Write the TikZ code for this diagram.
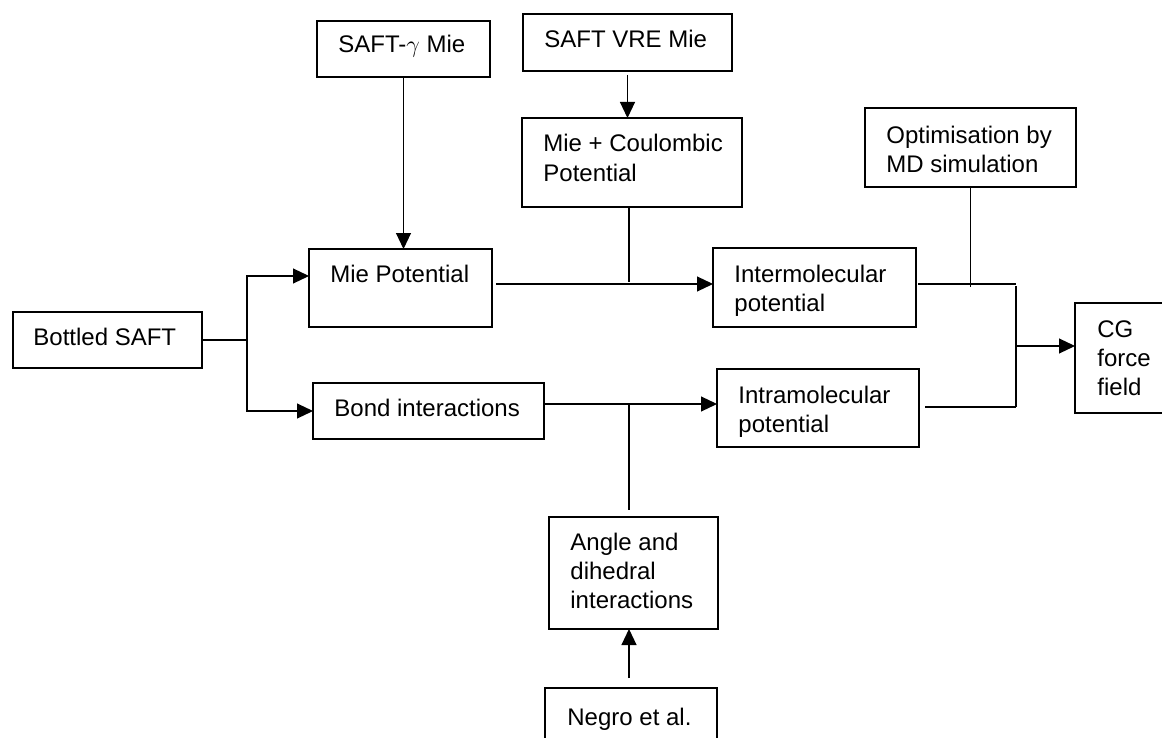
\documentclass[tikz,border=0pt]{standalone}
\usepackage{fontspec}
\setmainfont{Liberation Sans}
\usetikzlibrary{arrows.meta,fit,calc}
\tikzset{
  boxnode/.style={draw, line width=0.75pt, inner sep=0pt, outer sep=0pt},
  txt/.style={anchor=base west, inner sep=0pt, font=\fontsize{12}{14.6}\selectfont},
  conn/.style={line width=0.55pt},
  arr/.style={line width=0.55pt, -{Triangle[length=8pt,width=7.5pt]}}
}
\newcommand\mybx[8]{%
  \node[boxnode, fit={(#2,#3) (#4,#5)}] (#1) {};
  \node[txt] (#1-t) at (#6,#7) {\parbox[t]{60mm}{\raggedright #8}};}
\begin{document}
\begin{tikzpicture}[x=0.5pt,y=-0.5pt]
\useasboundingbox (0,0) rectangle (1162,738);
% boxes
\mybx{gam}{317}{21}{490}{77}{338}{53}{SAFT-$\gamma$ Mie}
\mybx{vre}{523}{14}{732}{71}{544}{48}{SAFT VRE Mie}
\mybx{mc}{522}{118}{742}{207}{543}{152}{Mie + Coulombic\\Potential}
\mybx{mie}{309}{249}{492}{327}{330}{282}{Mie Potential}
\mybx{bot}{13}{312}{202}{368}{33}{345}{Bottled SAFT}
\mybx{bond}{313}{383}{544}{439}{334}{416}{Bond interactions}
\mybx{inter}{713}{248}{916}{327}{734}{282}{Intermolecular\\potential}
\mybx{intra}{717}{369}{919}{447}{738}{403}{Intramolecular\\potential}
\mybx{opt}{865}{108}{1076}{187}{886}{143}{Optimisation by\\MD simulation}
\mybx{cg}{1075}{303}{1200}{413}{1097}{337}{CG\\force\\field}
\mybx{ang}{549}{517}{718}{629}{570}{550}{Angle and\\dihedral\\interactions}
\mybx{neg}{545}{688}{717}{780}{567}{725}{Negro et al.}
% junction coordinates
\coordinate (ja) at (247,276);
\coordinate (jm) at (629,284);
\coordinate (jr1) at (1016,284);
\coordinate (jr2) at (1016,407);
\coordinate (jr3) at (1016,346);
\coordinate (jb2) at (629,404);
% connectors
\draw[arr] (bot.east) -| (ja) -- (ja -| mie.west);
\draw[arr] (ja |- bot.east) |- (bond.west);
\draw[arr] (gam.south) -- (gam.south |- mie.north);
\draw[arr] ([yshift=-2pt]vre.south) -- (vre.south |- mc.north);
\draw[arr] ([xshift=2pt]jm -| mie.east) -- (jm -| inter.west);
\draw[conn] (jm |- mc.south) -- ([yshift=1pt]jm);
\draw[conn] ([xshift=1pt]jr1 -| inter.east) -- (jr1);
\draw[conn] (opt.south) -- ([yshift=-1.5pt]opt.south |- jr1);
\draw[conn] ([yshift=-1pt]jr1) -- (jr2);
\draw[conn] ([xshift=3pt]jr2 -| intra.east) -- (jr2);
\draw[arr] (jr3) -- (jr3 -| cg.west);
\draw[arr] (jb2 -| bond.east) -- (jb2 -| intra.west);
\draw[conn] (jb2) -- ([yshift=3.5pt]jb2 |- ang.north);
\draw[arr] ([yshift=5pt]jb2 |- neg.north) -- (jb2 |- ang.south);
\end{tikzpicture}
\end{document}
